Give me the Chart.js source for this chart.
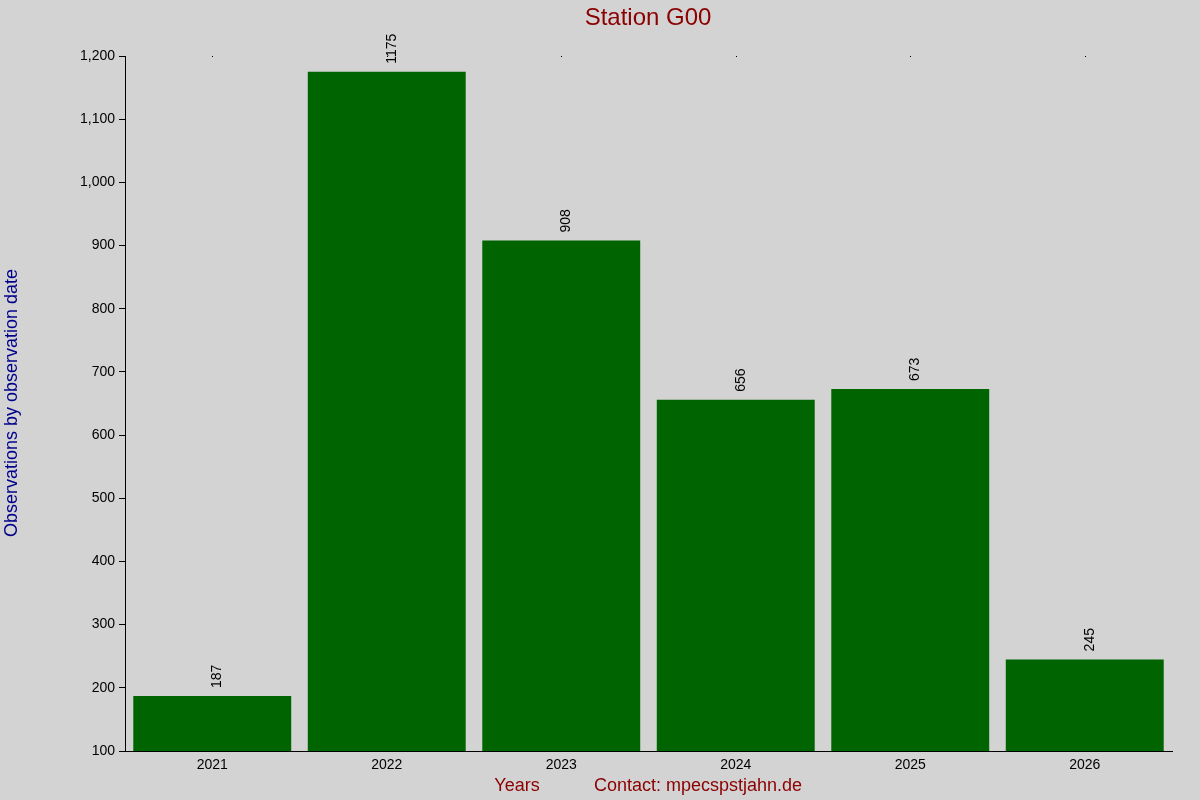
<!DOCTYPE html>
<html><head><meta charset="utf-8">
<script src="https://cdn.jsdelivr.net/npm/chart.js@4"></script>
<style>html,body{margin:0;padding:0;background:#d3d3d3}#w{width:1200px;height:800px}</style>
</head><body><div id="w"><canvas id="c"></canvas></div>
<script>
const categories = ["2021","2022","2023","2024","2025","2026"];
const values = [187,1175,908,656,673,245];
const FONT = "'Liberation Sans', Arial, sans-serif";
const overlay = {
  id:'overlay',
  afterDatasetsDraw(chart){
    const ctx = chart.ctx, x = chart.scales.x, y = chart.scales.y, ca = chart.chartArea;
    ctx.save();
    ctx.fillStyle = '#000';
    ctx.font = '14px ' + FONT;
    const meta = chart.getDatasetMeta(0);
    meta.data.forEach((b,i)=>{
      ctx.save();
      ctx.translate(b.x+5, b.y-8);
      ctx.rotate(-Math.PI/2);
      ctx.textAlign='left'; ctx.textBaseline='middle';
      ctx.fillText(String(values[i]),0,0);
      ctx.restore();
      ctx.fillRect(Math.round(b.x),ca.top,1,1);
    });
    ctx.fillStyle='#8b0000';
    ctx.font='24px '+FONT; ctx.textAlign='center'; ctx.textBaseline='middle';
    ctx.fillText('Station G00',648,18);
    ctx.font='18px '+FONT;
    ctx.fillText('Years',517,786);
    ctx.fillText('Contact: mpecspstjahn.de',698,786);
    ctx.fillStyle='#00008b';
    ctx.translate(12,403); ctx.rotate(-Math.PI/2);
    ctx.fillText('Observations by observation date',0,0);
    ctx.restore();
  }
};
new Chart(document.getElementById('c'),{
  type:'bar',
  data:{labels:categories,datasets:[{data:values,backgroundColor:'#006400',barPercentage:0.905,categoryPercentage:1}]},
  options:{
    responsive:true,maintainAspectRatio:false,animation:false,
    layout:{padding:{top:56,right:28,left:0,bottom:0}},
    plugins:{legend:{display:false},tooltip:{enabled:false}},
    scales:{
      x:{grid:{drawOnChartArea:false,drawTicks:false,color:'#000'},border:{color:'#000'},
         ticks:{color:'#000',font:{family:FONT,size:14},padding:6},
         afterFit(s){s.height=49;}},
      y:{min:100,max:1200,grid:{drawOnChartArea:false,drawTicks:true,tickLength:6,color:'#000'},border:{color:'#000'},
         ticks:{stepSize:100,color:'#000',font:{family:FONT,size:14},padding:4},
         afterFit(s){s.width=125;}}
    }
  },
  plugins:[overlay]
});
</script></body></html>
